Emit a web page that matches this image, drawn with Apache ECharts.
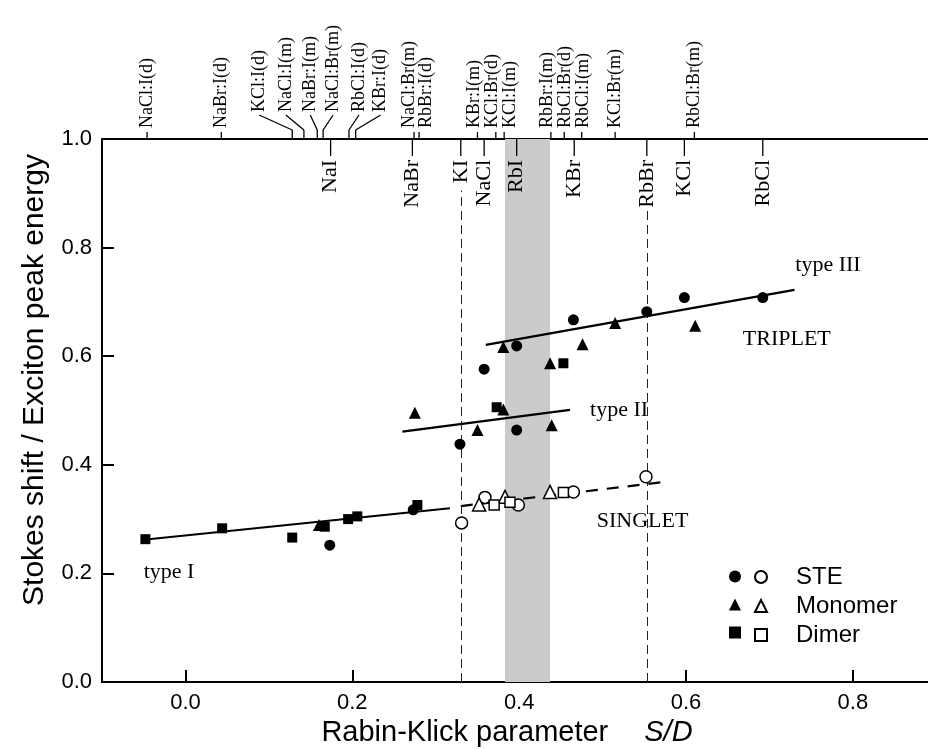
<!DOCTYPE html>
<html>
<head>
<meta charset="utf-8">
<title>Stokes shift vs Rabin-Klick parameter</title>
<script src="https://cdn.jsdelivr.net/npm/echarts@6.0.0/dist/echarts.min.js"></script>
<style>html,body{margin:0;padding:0;background:#fff}#chart{width:928px;height:749px}</style>
</head>
<body>
<div id="chart"></div>
<script>
// triplet (filled) points
var steFilled = [[0.173,0.252],[0.273,0.317],[0.329,0.438],[0.358,0.576],[0.397,0.464],
                 [0.397,0.619],[0.465,0.667],[0.553,0.682],[0.598,0.708],[0.692,0.708]];
var monoFilled = [[0.160,0.289],[0.275,0.496],[0.350,0.464],[0.381,0.502],[0.381,0.617],
                  [0.437,0.587],[0.439,0.473],[0.476,0.622],[0.515,0.661],[0.611,0.656]];
var dimerFilled = [[-0.048,0.263],[0.044,0.283],[0.128,0.266],[0.167,0.286],[0.195,0.300],
                   [0.206,0.305],[0.278,0.326],[0.373,0.506],[0.453,0.587]];
// singlet (open) points
var steOpen = [[0.331,0.293],[0.359,0.340],[0.399,0.326],[0.465,0.350],[0.552,0.378]];
var monoOpen = [[0.352,0.327],[0.383,0.341],[0.437,0.350]];
var dimerOpen = [[0.370,0.326],[0.389,0.331],[0.453,0.349]];

// fitted lines
var typeI = [[-0.050,0.262],[0.317,0.320]];
var typeIext = [[0.330,0.324],[0.577,0.369]];
var typeII = [[0.260,0.461],[0.461,0.501]];
var typeIII = [[0.360,0.621],[0.730,0.722]];

// host crystals (below top axis) and dopant systems (above top axis)
var hostNames = ['NaI','NaBr','KI','NaCl','RbI','KBr','RbBr','KCl','RbCl'];
var hostX = [0.174,0.272,0.330,0.358,0.397,0.466,0.553,0.598,0.692];
var dopantNames = ['NaCl:I(d)','NaBr:I(d)','KCl:I(d)','NaCl:I(m)','NaBr:I(m)','NaCl:Br(m)',
  'RbCl:I(d)','KBr:I(d)','NaCl:Br(m)','RbBr:I(d)','KBr:I(m)','KCl:Br(d)','KCl:I(m)',
  'RbBr:I(m)','RbCl:Br(d)','RbCl:I(m)','KCl:Br(m)','RbCl:Br(m)'];
var dopantX = [-0.046,0.043,0.128,0.142,0.158,0.165,0.196,0.204,0.274,0.280,0.350,0.372,
  0.382,0.438,0.454,0.475,0.515,0.610];

// dashed guides at KI and RbBr, shaded RbI band
var guideX = [0.330,0.553];
var guideTop = [0.905,0.870];
var band = [0.383,0.437];

var noteText = ['type I','type II','type III','TRIPLET','SINGLET'];
var noteAt = [[-0.050,0.203],[0.485,0.501],[0.731,0.768],[0.668,0.632],[0.493,0.296]];

// label layout (pixels): shifted labels with leader lines
var dopantShift = [0,0,-33,-18,-7,10,10,25,-5,7,-3,-4,6,-4,1,2,0,0];
var dopantLeader = [0,0,1,1,1,1,1,1,0,0,0,0,0,0,0,0,0,0];

var SERIF = '"Liberation Serif","Times New Roman",serif';
var SANS = '"Liberation Sans",Arial,sans-serif';

var chart = echarts.init(document.getElementById('chart'));

function seg(x1,y1,x2,y2){
  return {type:'line', shape:{x1:x1,y1:y1,x2:x2,y2:y2}, style:{stroke:'#000', lineWidth:1.3}};
}

function renderDopant(params, api){
  var i = params.dataIndex;
  var p = api.coord([api.value(0), 1]);
  var tx = p[0] + dopantShift[i], ty;
  var kids = [];
  if (dopantLeader[i]) {
    kids.push(seg(p[0], p[1], p[0], p[1]-9));
    kids.push(seg(p[0], p[1]-9, tx, p[1]-24));
    ty = p[1]-27;
  } else {
    kids.push(seg(p[0], p[1], p[0], p[1]-7));
    ty = p[1]-11;
  }
  kids.push({type:'text', x:tx, y:ty, rotation:Math.PI/2,
    style:{text:dopantNames[i], x:0, y:0, align:'left', verticalAlign:'middle',
      font:'18px ' + SERIF, fill:'#000'}});
  return {type:'group', children:kids};
}

function renderHost(params, api){
  var i = params.dataIndex;
  var p = api.coord([api.value(0), 1]);
  return {type:'group', children:[
    seg(p[0], p[1], p[0], p[1]+17),
    {type:'text', x:p[0], y:p[1]+21, rotation:Math.PI/2,
      style:{text:hostNames[i], x:0, y:0, align:'right', verticalAlign:'middle',
        font:'22px ' + SERIF, fill:'#000'}}
  ]};
}

var filledStyle = {color:'#000', opacity:1};
var openStyle = {color:'#fff', borderColor:'#000', borderWidth:1.5, opacity:1};

function pts(name, data, symbol, size, style){
  return {name:name, type:'scatter', data:data, symbol:symbol, symbolSize:size,
    itemStyle:style, z:5, silent:true};
}

function lineSeries(data, type){
  return {type:'line', data:data, symbol:'none', silent:true, z:3,
    lineStyle:{color:'#000', width:2.2, type:type, opacity:1}};
}

var option = {
  animation:false,
  backgroundColor:'#fff',
  grid:{left:102, right:0, top:139, bottom:67, outerBoundsMode:'none'},
  xAxis:[{
    type:'value', min:-0.1, max:0.89, position:'bottom',
    name:'{a|Rabin-Klick parameter}{g|}{b|S/D}', nameLocation:'middle', nameGap:34,
    nameTextStyle:{padding:[0,16,0,0], rich:{
      a:{fontFamily:SANS, fontSize:29, color:'#000'},
      g:{width:36},
      b:{fontFamily:SANS, fontSize:29, fontStyle:'italic', color:'#000'}}},
    axisLine:{onZero:false, lineStyle:{color:'#000', width:2}},
    axisTick:{inside:true, length:12, customValues:[0,0.2,0.4,0.6,0.8], lineStyle:{color:'#000', width:2}},
    axisLabel:{customValues:[0,0.2,0.4,0.6,0.8], margin:10, fontFamily:SANS, fontSize:22, color:'#000',
      formatter:function(v){return v.toFixed(1);}},
    splitLine:{show:false}
  },{
    type:'value', min:-0.1, max:0.89, position:'top',
    axisLine:{onZero:false, lineStyle:{color:'#000', width:2}},
    axisTick:{show:false}, axisLabel:{show:false}, splitLine:{show:false}
  }],
  yAxis:{
    type:'value', min:0, max:1, interval:0.2,
    axisLine:{show:true, onZero:false, lineStyle:{color:'#000', width:2}},
    axisTick:{show:true, inside:true, length:12, lineStyle:{color:'#000', width:2}},
    axisLabel:{margin:10, fontFamily:SANS, fontSize:22, color:'#000',
      formatter:function(v){return v.toFixed(1);}},
    splitLine:{show:false}
  },
  legend:[{
    orient:'vertical', left:724, top:560, itemGap:5, itemWidth:12, itemHeight:12,
    selectedMode:false, data:['STE triplet','Monomer triplet','Dimer triplet'],
    formatter:function(){return ' ';},
    textStyle:{fontFamily:SANS, fontSize:23, lineHeight:20}
  },{
    orient:'vertical', left:749, top:560, itemGap:5, itemWidth:12, itemHeight:12,
    selectedMode:false, data:['STE singlet','Monomer singlet','Dimer singlet'],
    formatter:function(n){return '{g|}' + n.split(' ')[0];},
    textStyle:{fontFamily:SANS, fontSize:24, lineHeight:20, color:'#000', rich:{g:{width:24}}}
  }],
  graphic:[{type:'text', x:35, y:380, rotation:Math.PI/2,
    style:{text:'Stokes shift / Exciton peak energy', font:'30px ' + SANS,
      align:'center', verticalAlign:'middle', fill:'#000'}}],
  series:[
    {type:'line', data:[], silent:true, z:1,
      markArea:{silent:true, itemStyle:{color:'#cbcbcb'},
        data:[[{xAxis:band[0], yAxis:0},{xAxis:band[1], yAxis:1}]]},
      markLine:{silent:true, symbol:'none', label:{show:false},
        lineStyle:{color:'#222', width:1, type:[9,5]},
        data:guideX.map(function(x,i){return [{coord:[x,0]},{coord:[x,guideTop[i]]}];})}
    },
    lineSeries(typeI, 'solid'),
    lineSeries(typeIext, [12,9]),
    lineSeries(typeII, 'solid'),
    lineSeries(typeIII, 'solid'),
    pts('STE triplet', steFilled, 'circle', 11, filledStyle),
    pts('Monomer triplet', monoFilled, 'triangle', 12, filledStyle),
    pts('Dimer triplet', dimerFilled, 'rect', 10, filledStyle),
    pts('STE singlet', steOpen, 'circle', 12, openStyle),
    pts('Monomer singlet', monoOpen, 'triangle', 13, openStyle),
    pts('Dimer singlet', dimerOpen, 'rect', 10, openStyle),
    {type:'scatter', symbolSize:0, silent:true, z:6, itemStyle:{opacity:1},
      data:noteAt.map(function(p,i){return {value:p, name:noteText[i]};}),
      label:{show:true, position:'right', distance:0, formatter:'{b}',
        fontFamily:SERIF, fontSize:22, color:'#000', opacity:1}},
    {type:'custom', xAxisIndex:0, clip:false, silent:true, z:7,
      data:dopantX.map(function(x){return [x,1];}), renderItem:renderDopant},
    {type:'custom', xAxisIndex:0, clip:false, silent:true, z:7,
      data:hostX.map(function(x){return [x,1];}), renderItem:renderHost}
  ]
};
chart.setOption(option);
</script>
</body>
</html>
